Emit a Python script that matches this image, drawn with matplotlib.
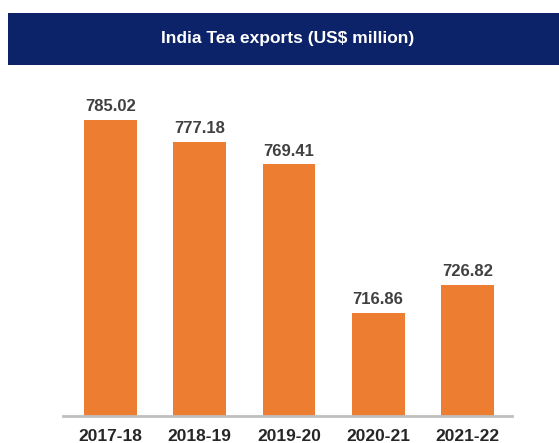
import matplotlib
matplotlib.use('Agg')
import matplotlib.pyplot as plt
from matplotlib.patches import Rectangle

years = ['2017-18', '2018-19', '2019-20', '2020-21', '2021-22']
exports = [785.02, 777.18, 769.41, 716.86, 726.82]

plt.rcParams['font.family'] = ['Liberation Sans', 'DejaVu Sans']

fig = plt.figure(figsize=(5.59, 4.43), dpi=100)

# title banner
fig.patches.append(Rectangle((8 / 559, 0.853), 1.0, 0.118, transform=fig.transFigure,
                             facecolor='#0c2369', edgecolor='none'))
fig.text(0.514, 0.914, 'India Tea exports (US$ million)', color='white',
         fontsize=12.5, fontweight='bold', ha='center', va='center')

ax = fig.add_axes([0.113, 0.061, 0.803, 0.7675])
x = range(len(years))
ax.bar(x, exports, width=0.59, color='#ed7d31')
ax.set_ylim(680.5, 800.5)
ax.set_xlim(-0.53, 4.5)

for xi, v in zip(x, exports):
    ax.annotate(f'{v:.2f}', (xi, v), xytext=(0, 4), textcoords='offset points',
                ha='center', va='bottom', fontsize=12, fontweight='bold', color='#404040')

ax.set_xticks(list(x))
ax.set_xticklabels(years, fontsize=12.5, fontweight='bold', color='#262626')
ax.tick_params(axis='x', length=0, pad=9.5)
ax.set_yticks([])
for s in ['top', 'right', 'left']:
    ax.spines[s].set_visible(False)
ax.spines['bottom'].set_color('#bfbfbf')
ax.spines['bottom'].set_linewidth(2)

fig.savefig('out.png', dpi=100)
